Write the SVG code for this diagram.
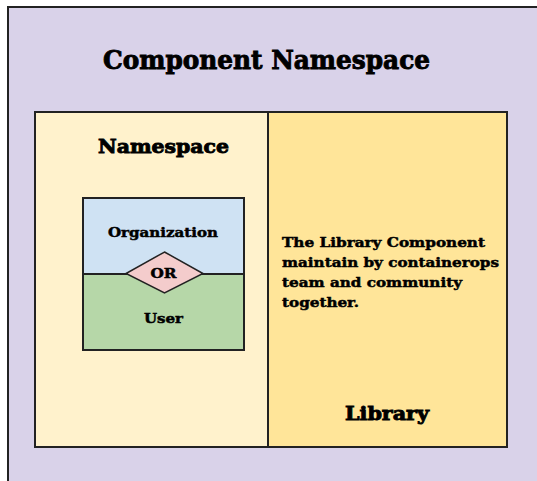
<svg xmlns="http://www.w3.org/2000/svg" width="537" height="481" viewBox="0 0 537 481">
<style>
.t{font-family:"DejaVu Serif","Liberation Serif",serif;font-weight:bold;fill:#000;stroke:#000;stroke-width:0.5;paint-order:stroke}
.big{stroke-width:0.9}
.box{stroke:#222;stroke-width:2}
</style>
<rect width="537" height="481" fill="#ffffff"/>
<g id="component-namespace">
<rect class="box" x="8" y="7" width="540" height="490" fill="#d9d2e9"/>
<text class="t big" x="266.5" y="69" font-size="26" text-anchor="middle" textLength="327" lengthAdjust="spacingAndGlyphs">Component Namespace</text>
</g>
<g id="namespace">
<rect class="box" x="35" y="112" width="233" height="335" fill="#fff2cc"/>
<text class="t big" x="163.5" y="153" font-size="19" text-anchor="middle" textLength="131" lengthAdjust="spacingAndGlyphs">Namespace</text>
</g>
<g id="library">
<rect class="box" x="268" y="112" width="239" height="335" fill="#ffe599"/>
<text class="t" x="282" y="247" font-size="13.5" textLength="203" lengthAdjust="spacingAndGlyphs">The Library Component</text>
<text class="t" x="282" y="267" font-size="13.5" textLength="217" lengthAdjust="spacingAndGlyphs">maintain by containerops</text>
<text class="t" x="282" y="287" font-size="13.5" textLength="180" lengthAdjust="spacingAndGlyphs">team and community</text>
<text class="t" x="282" y="307" font-size="13.5" textLength="77" lengthAdjust="spacingAndGlyphs">together.</text>
<text class="t big" x="387" y="420" font-size="19" text-anchor="middle" textLength="84" lengthAdjust="spacingAndGlyphs">Library</text>
</g>
<g id="organization">
<rect class="box" x="83" y="198" width="161" height="76" fill="#cfe2f3"/>
<text class="t" x="163" y="237" font-size="13.5" text-anchor="middle" textLength="110" lengthAdjust="spacingAndGlyphs">Organization</text>
</g>
<g id="user">
<rect class="box" x="83" y="274" width="161" height="76" fill="#b6d7a8"/>
<text class="t" x="163.5" y="323" font-size="13.5" text-anchor="middle" textLength="39" lengthAdjust="spacingAndGlyphs">User</text>
</g>
<g id="or">
<polygon points="164.5,252 203,273.5 164.5,293 126,273.5" fill="#f4cccc" stroke="#222" stroke-width="1.5"/>
<text class="t" x="163.5" y="278" font-size="13.5" text-anchor="middle" textLength="26" lengthAdjust="spacingAndGlyphs">OR</text>
</g>
<g id="connectors"></g>
</svg>
